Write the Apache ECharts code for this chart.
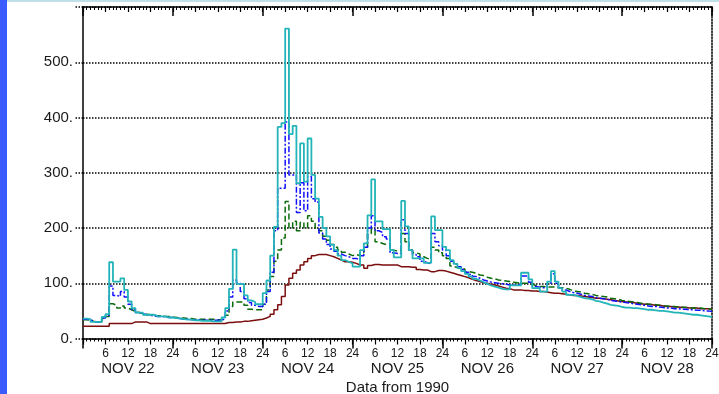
<!DOCTYPE html>
<html>
<head>
<meta charset="utf-8">
<script src="https://cdn.jsdelivr.net/npm/echarts@6/dist/echarts.min.js"></script>
<style>
  html, body { margin: 0; padding: 0; background: #fff; }
  #chart { width: 719px; height: 394px; }
</style>
</head>
<body>
<div id="chart"></div>
<script>
// hourly values, NOV 22 00h .. NOV 28 24h (one row per day)
var maroonVals = [
  22,22,22,22,22,22,22,27,27,27,27,27,27,30,30,30,30,27,27,27,27,27,27,27,
  27,27,27,27,27,27,27,27,27,27,27,27,27,27,29,29,30,30,31,31,32,33,34,35,
  37,40,44,52,61,76,97,109,118,124,133,139,145,150,152,152,152,150,148,145,142,139,139,138,
  136,133,133,127,132,134,134,133,133,133,133,133,130,130,130,129,129,125,124,124,121,121,123,123,
  122,120,118,116,114,112,110,107,105,103,101,100,98,97,95,93,91,90,88,88,88,87,87,86,
  86,85,85,84,83,82,82,81,80,79,78,78,77,76,75,74,73,73,72,71,70,69,68,67,
  66,66,65,64,63,62,62,61,60,60,59,58,58,57,57,56,56,55,55,55,54,54,54,53
];
var greenVals = [
  34,33,31,30,30,36,40,63,60,55,59,55,52,49,47,45,44,43,42,41,41,40,40,39,
  38,37,37,36,36,35,35,35,35,35,35,34,34,35,42,58,66,66,66,60,53,52,52,52,
  62,88,112,140,160,182,248,200,212,195,210,200,222,212,200,195,185,178,170,165,160,156,153,150,
  152,150,155,165,190,198,175,172,170,172,160,158,158,190,175,160,155,153,148,145,143,165,160,155,
  150,145,131,128,127,126,121,120,118,115,114,111,109,108,106,105,104,103,102,101,100,100,100,98,
  96,94,94,93,93,93,92,92,91,89,86,85,84,82,81,80,78,77,76,75,73,72,71,69,
  68,67,66,65,64,63,62,62,61,60,59,59,58,58,57,57,56,56,55,55,55,54,54,53
];
var blueVals = [
  35,34,31,30,30,37,42,95,78,76,85,75,62,52,47,45,43,42,41,40,40,39,38,38,
  37,36,35,35,34,34,34,33,33,33,33,33,33,36,50,75,106,100,85,72,65,60,58,58,
  62,85,120,195,272,272,392,296,296,228,282,231,293,253,247,191,180,170,162,158,153,150,148,145,
  145,142,150,165,200,222,195,192,184,180,155,154,154,215,190,160,152,148,140,137,135,190,175,168,
  160,150,140,135,130,125,120,116,112,109,106,104,102,101,100,99,98,97,97,97,98,113,113,102,
  94,93,92,92,100,117,100,92,88,85,83,82,80,78,77,76,74,73,72,71,69,68,67,66,
  65,64,63,62,61,60,59,58,58,57,56,55,55,54,54,53,53,52,52,51,51,50,50,49
];
var cyanVals = [
  36,35,30,30,30,39,44,138,103,103,109,88,67,55,47,47,43,43,43,40,40,40,38,38,
  37,36,35,34,34,33,33,32,32,32,31,31,31,38,55,90,161,99,99,78,69,66,62,62,
  82,105,150,202,383,390,561,370,385,281,353,284,362,296,253,220,200,185,170,160,150,142,139,136,
  130,130,160,172,223,288,212,212,198,198,160,147,147,249,203,160,145,145,145,137,137,221,196,196,
  166,160,142,135,128,122,117,112,108,105,102,99,96,94,92,90,89,89,96,96,96,119,119,107,
  91,91,85,85,103,122,103,91,85,79,79,77,75,73,72,71,68,67,65,63,61,60,59,57,
  56,56,55,55,54,53,52,52,51,50,50,49,48,47,47,46,45,44,43,43,42,41,40,39
];
var dayNames = ['NOV 22', 'NOV 23', 'NOV 24', 'NOV 25', 'NOV 26', 'NOV 27', 'NOV 28'];
var hourLabels = ['6', '12', '18', '24'];
var yLabels = ['0.', '100.', '200.', '300.', '400.', '500.'];

function toSteps(vals) {
  var d = vals.map(function (v, i) { return [i, v]; });
  d.push([vals.length, vals[vals.length - 1]]);
  return d;
}

var font = "'Liberation Sans', Arial, sans-serif";
var ink = '#1a1a1a';

var chart = echarts.init(document.getElementById('chart'));

var baseX = {
  type: 'value', min: 0, max: 168, gridIndex: 0,
  splitLine: { show: false },
  axisLabel: { show: false },
  axisLine: { show: false },
  axisTick: { show: false }
};

chart.setOption({
  animation: false,
  backgroundColor: '#fff',
  grid: { left: 83, right: 7, top: 7, bottom: 55.5, outerBoundsMode: 'none', containLabel: false },
  graphic: [
    { type: 'rect', shape: { x: 0, y: 0, width: 7, height: 394 }, style: { fill: '#3a5cff' } },
    { type: 'rect', shape: { x: 7, y: 0, width: 712, height: 2 }, style: { fill: '#bfe0e6' } }
  ],
  xAxis: [
    Object.assign({}, baseX, {
      position: 'bottom', interval: 6,
      axisLine: { show: true, onZero: false, lineStyle: { color: '#000', width: 1.5 } },
      axisTick: { show: true, length: 6, lineStyle: { color: '#000', width: 1.2 } },
      minorTick: { show: true, splitNumber: 6, length: 3, lineStyle: { color: '#000', width: 1 } },
      axisLabel: {
        show: true, margin: 9, fontSize: 12, fontFamily: font, color: ink,
        showMinLabel: true, showMaxLabel: true,
        formatter: function (v) { return v === 0 ? '' : hourLabels[(v / 6 - 1) % 4]; }
      },
      name: 'Data from 1990', nameLocation: 'middle', nameGap: 42,
      nameTextStyle: { fontSize: 15, fontFamily: font, color: ink }
    }),
    Object.assign({}, baseX, {
      position: 'bottom', interval: 24,
      axisTick: { show: true, length: 10, lineStyle: { color: '#000', width: 1.5 } }
    }),
    Object.assign({}, baseX, {
      position: 'bottom', interval: 12,
      axisLabel: {
        show: true, margin: 23, fontSize: 15, fontFamily: font, color: ink,
        showMinLabel: true, showMaxLabel: true,
        formatter: function (v) { return v % 24 === 12 ? dayNames[(v - 12) / 24] : ''; }
      }
    }),
    Object.assign({}, baseX, {
      position: 'top', interval: 6,
      axisLine: { show: true, onZero: false, lineStyle: { color: '#000', width: 1.5 } },
      axisTick: { show: true, inside: true, length: 5, lineStyle: { color: '#000', width: 1.2 } },
      minorTick: { show: true, splitNumber: 6, length: 3, lineStyle: { color: '#000', width: 1 } }
    }),
    Object.assign({}, baseX, {
      position: 'top', interval: 24,
      axisTick: { show: true, inside: true, length: 9, lineStyle: { color: '#000', width: 1.5 } }
    })
  ],
  yAxis: [
    {
      type: 'value', min: 0, max: 600, interval: 100, position: 'left',
      axisLine: { show: true, onZero: false, lineStyle: { color: '#000', width: 1.5 } },
      axisTick: { show: true, length: 8, lineStyle: { color: '#000', width: 1.5, type: 'dotted' } },
      axisLabel: {
        margin: 10, fontSize: 15, fontFamily: font, color: ink,
        formatter: function (v) { return yLabels[v / 100] || ''; }
      },
      splitLine: { show: true, lineStyle: { color: '#000', width: 1.5, type: 'dotted' } }
    },
    {
      type: 'value', min: 0, max: 600, interval: 100, position: 'right',
      axisLine: { show: true, onZero: false, lineStyle: { color: '#000', width: 1.5, type: 'dotted' } },
      axisTick: { show: false },
      axisLabel: { show: false },
      splitLine: { show: false }
    }
  ],
  series: [
    {
      type: 'line', step: 'end', symbol: 'none', data: toSteps(maroonVals),
      lineStyle: { color: '#7b0d0d', width: 1.5 }
    },
    {
      type: 'line', step: 'end', symbol: 'none', data: toSteps(greenVals),
      lineStyle: { color: '#0b6b0b', width: 1.5, type: [6, 3] }
    },
    {
      type: 'line', step: 'end', symbol: 'none', data: toSteps(blueVals),
      lineStyle: { color: '#1010ff', width: 1.5, type: [6, 2, 2, 2] }
    },
    {
      type: 'line', step: 'end', symbol: 'none', data: toSteps(cyanVals),
      lineStyle: { color: '#22b4b8', width: 1.8 }
    }
  ]
});
</script>
</body>
</html>
